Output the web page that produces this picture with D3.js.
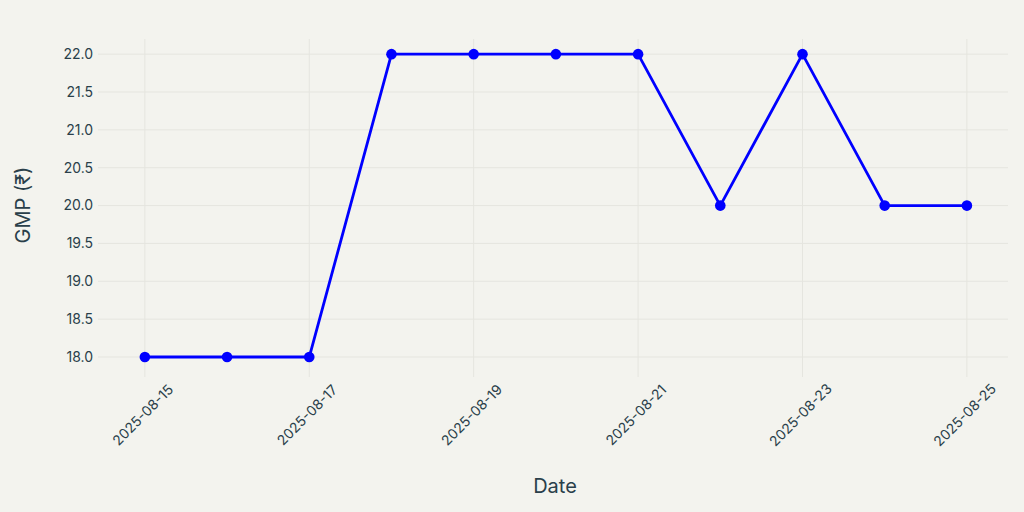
<!DOCTYPE html>
<html><head><meta charset="utf-8">
<script src="https://cdn.jsdelivr.net/npm/d3@7"></script>
<style>body{margin:0;background:#f3f3ee;}svg{display:block;font-family:Inter,"Noto Sans",sans-serif;}</style>
</head><body><svg id="c" width="1024" height="512"></svg>
<script>
const dates = ["2025-08-15","2025-08-16","2025-08-17","2025-08-18","2025-08-19","2025-08-20","2025-08-21","2025-08-22","2025-08-23","2025-08-24","2025-08-25"];
const gmp = [18,18,18,22,22,22,22,20,22,20,20];
const xTickLabels = ["2025-08-15","2025-08-17","2025-08-19","2025-08-21","2025-08-23","2025-08-25"];
const yTicks = [18,18.5,19,19.5,20,20.5,21,21.5,22];
const xTitle = "Date", yTitle = "GMP (₹)";

const parse = d3.utcParse("%Y-%m-%d");
const svg = d3.select("#c");
const L=98,R=1008,T=39,B=377;
const day=864e5;
const x = d3.scaleUtc().domain([new Date(parse(dates[0]).getTime()-0.57*day), new Date(parse(dates[dates.length-1]).getTime()+0.5*day)]).range([L,R]);
const y = d3.scaleLinear().domain([17.736,22.2]).range([B,T]);
const txt="#2a3f4a", grid="#e5e5df";

svg.append("g").selectAll("line").data(yTicks).join("line")
 .attr("x1",L).attr("x2",R).attr("y1",d=>y(d)).attr("y2",d=>y(d)).attr("stroke",grid).attr("stroke-width",1);
svg.append("g").selectAll("line").data(xTickLabels).join("line")
 .attr("x1",d=>x(parse(d))).attr("x2",d=>x(parse(d))).attr("y1",T).attr("y2",B).attr("stroke",grid).attr("stroke-width",1);

svg.append("g").selectAll("text").data(yTicks).join("text")
 .attr("x",93).attr("y",d=>y(d)).attr("dy","0.35em").attr("text-anchor","end")
 .attr("fill",txt).attr("font-size",14).text(d=>d3.format(".1f")(d));
svg.append("g").selectAll("text").data(xTickLabels).join("text")
 .attr("transform",d=>`translate(${x(parse(d))-2},415) rotate(-45)`)
 .attr("text-anchor","middle").attr("dy","0.35em").attr("fill",txt).attr("font-size",14).text(d=>d);

svg.append("text").attr("x",(L+R)/2+2).attr("y",493).attr("text-anchor","middle").attr("fill",txt).attr("font-size",20).text(xTitle);
svg.append("text").attr("transform",`translate(30,205) rotate(-90)`).attr("text-anchor","middle").attr("fill",txt).attr("font-size",20).text(yTitle);

const pts = dates.map((d,i)=>({t:parse(d),v:gmp[i]}));
svg.append("path").datum(pts).attr("fill","none").attr("stroke","#0000ff").attr("stroke-width",2.8)
 .attr("d",d3.line().x(d=>x(d.t)).y(d=>y(d.v)));
svg.append("g").selectAll("circle").data(pts).join("circle")
 .attr("cx",d=>x(d.t)).attr("cy",d=>y(d.v)).attr("r",5.3).attr("fill","#0000ff");
</script></body></html>
